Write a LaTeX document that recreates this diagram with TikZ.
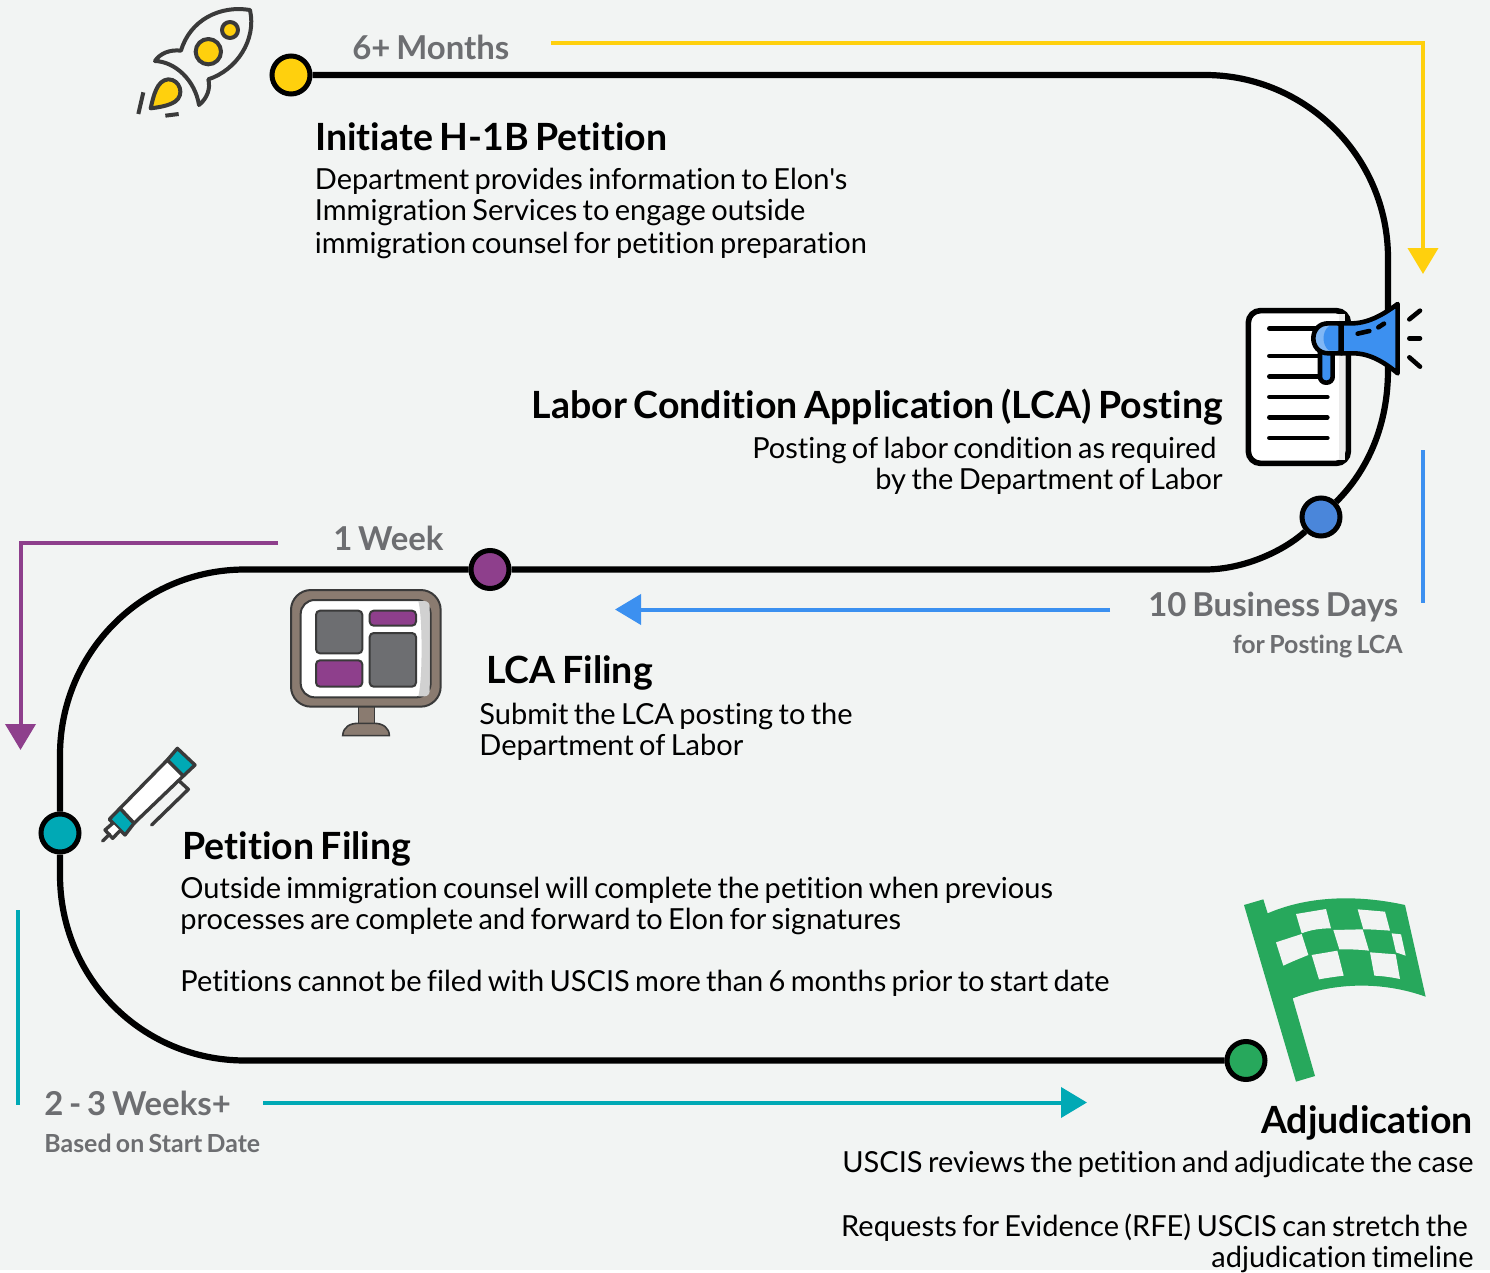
\documentclass[tikz,border=0pt]{standalone}
\usepackage{fontspec}
\defaultfontfeatures[\rmfamily]{}
\setmainfont{Lato}[Ligatures=NoCommon,WordSpace=0.72]
\usetikzlibrary{arrows.meta}

\definecolor{paper}{HTML}{F2F4F3}
\definecolor{ink}{HTML}{3A3A3A}
\definecolor{label}{HTML}{6D6E71}
\definecolor{cyellow}{HTML}{FFD00D}
\definecolor{cblue}{HTML}{3C90F0}
\definecolor{cdot}{HTML}{4A86DA}
\definecolor{cpurple}{HTML}{8E3F8C}
\definecolor{cteal}{HTML}{00A9B5}
\definecolor{cgreen}{HTML}{27A85C}
\definecolor{brown}{HTML}{8A7B70}
\definecolor{slate}{HTML}{6D6E71}

\begin{document}
\begin{tikzpicture}[x=0.5pt,y=-0.5pt]
    \tikzset{track/.style = {black, line width=3.1pt},
        dot/.style   = {circle, draw=black, line width=2.5pt, inner sep=0pt, minimum size=19pt},
        span/.style  = {line width=2pt},
        spanarrow/.style = {span, -{Triangle[width=15pt,length=13pt]}},
        head/.style  = {font=\fontsize{18.75}{20}\selectfont\bfseries, inner sep=0pt},
        body/.style  = {font=\fontsize{14.5}{15.6}\selectfont, inner sep=0pt},
        time/.style  = {font=\fontsize{16.45}{20}\selectfont\bfseries, text=label, inner sep=0pt},
        subtime/.style = {font=\fontsize{12.45}{15}\selectfont\bfseries, text=label, inner sep=0pt},
        icon/.style  = {line width=2pt, line join=round, line cap=round},
        penline/.style = {line width=1.7pt, line join=round, line cap=round},
        sheetline/.style = {black, line width=2.3pt, line cap=round},
        tile/.style  = {draw=ink, line width=1pt, rounded corners=2pt}
    }

    \fill[paper] (0,0) rectangle (1490,1270);

    % Draw the stops on the track.
    \node[dot, fill=cyellow] (startdot) at (291,75) {};
    \node[dot, fill=cdot] (postdot) at (1321,517) {};
    \node[dot, fill=cpurple] (filedot) at (490,569.5) {};
    \node[dot, fill=cteal] (petitiondot) at (60,833) {};
    \node[dot, fill=cgreen] (enddot) at (1246,1060.5) {};

    % Draw the track.
    \draw[track] (startdot) -- (1205,75) .. controls (1306,75) and (1388,157) .. (1388,258)
        -- (1388,370) .. controls (1388,425) and (1368,470) .. (postdot);
    \draw[track] (postdot) .. controls (1285,550) and (1245,569.5) .. (1205,569.5) -- (filedot);
    \draw[track] (filedot) -- (245,569.5) .. controls (142,569.5) and (60,653) .. (60,755) -- (petitiondot);
    \draw[track] (petitiondot) -- (60,875) .. controls (60,978) and (142,1060.5) .. (245,1060.5) -- (enddot);

    % Draw the time spans.
    \coordinate (yellowa) at (551,43);
    \coordinate (yellowb) at (1423,43);
    \coordinate (yellowc) at (1423,274);
    \draw[spanarrow, cyellow] (yellowa) -- (yellowb) -- (yellowc);
    \coordinate (bluea) at (1423,450);
    \coordinate (blueb) at (1423,603);
    \draw[span, cblue] (bluea) -- (blueb);
    \coordinate (bluec) at (1110,609.5);
    \coordinate (blued) at (615,609.5);
    \draw[spanarrow, cblue] (bluec) -- (blued);
    \coordinate (purplea) at (278,542.5);
    \coordinate (purpleb) at (20.5,542.5);
    \coordinate (purplec) at (20.5,750);
    \draw[spanarrow, cpurple] (purplea) -- (purpleb) -- (purplec);
    \coordinate (teala) at (18,910);
    \coordinate (tealb) at (18,1105);
    \draw[span, cteal] (teala) -- (tealb);
    \coordinate (tealc) at (263,1102.5);
    \coordinate (teald) at (1087,1102.5);
    \draw[spanarrow, cteal] (tealc) -- (teald);

    % Draw the labels.
    \node[time, anchor=base west] (monthslabel) at (352,60) {6+ Months};
    \node[time, anchor=base west] (weeklabel) at (333,550.5) {1 Week};
    \node[time, anchor=base west] (dayslabel) at (1148,616.5) {10 Business Days};
    \node[subtime, anchor=base east] (dayssub) at (1403,653.5) {for Posting LCA};
    \node[time, anchor=base west] (weekslabel) at (44,1115) {2 - 3 Weeks+};
    \node[subtime, anchor=base west] (weekssub) at (44,1152) {Based on Start Date};

    \node[head, anchor=base west] (starthead) at (315,150.5) {Initiate H-1B Petition};
    \node[body, anchor=north west, align=left] (starttext) at (314.5,167.5)
        {Department provides information to Elon's\\Immigration Services to engage outside\\[1pt]immigration counsel for petition preparation};

    \node[head, anchor=base east] (posthead) at (1223,418.5) {Labor Condition Application (LCA) Posting};
    \node[body, anchor=north east, align=right] (posttext) at (1223,437)
        {Posting of labor condition as required\hspace*{3pt}\\by the Department of Labor};

    \node[head, anchor=base west] (filehead) at (486,683) {LCA Filing};
    \node[body, anchor=north west, align=left] (filetext) at (479,702.5)
        {Submit the LCA posting to the\\Department of Labor};

    \node[head, anchor=base west] (petitionhead) at (182,859) {Petition Filing};
    \node[body, anchor=north west, align=left] (petitiontext) at (180,876.5)
        {Outside immigration counsel will complete the petition when previous\\processes are complete and forward to Elon for signatures\\[15.6pt]Petitions cannot be filed with USCIS more than 6 months prior to start date};

    \node[head, anchor=base east] (endhead) at (1473,1133) {Adjudication};
    \node[body, anchor=north east, align=right] (endtext) at (1474,1150.5)
        {USCIS reviews the petition and adjudicate the case\\[16.5pt]Requests for Evidence (RFE) USCIS can stretch the\hbox to 3pt{}\\adjudication timeline};

    % Draw the rocket.
    \begin{scope}[shift={(120,0)},scale=1/3]
        \draw[icon, draw=ink] (390,30) .. controls (300,15) and (210,60) .. (183,152)
            .. controls (150,148) and (120,160) .. (105,183)
            .. controls (165,185) and (225,240) .. (237,315)
            .. controls (262,295) and (272,265) .. (265,238)
            .. controls (350,210) and (410,120) .. (390,30) -- cycle;
        \draw[icon, draw=ink, fill=cyellow] (265,155) circle[radius=38];
        \draw[icon, draw=ink, fill=cyellow] (330,90) circle[radius=24];
        \draw[icon, draw=ink, fill=cyellow] (92,325) .. controls (100,290) and (110,240) .. (145,238)
            .. controls (180,238) and (195,285) .. (165,305) .. controls (145,318) and (115,322) .. (92,325) -- cycle;
        \draw[icon, draw=ink, line cap=butt] (70,277) -- (55,342);
        \draw[icon, draw=ink, line cap=butt] (136,347) -- (176,342);
    \end{scope}

    % Draw the sheet and the megaphone.
    \begin{scope}[shift={(1230,290)},scale=1/3]
        \draw[line width=2.8pt, black, fill=white, rounded corners=6pt] (55,62) rectangle (355,520);
        \fill[black!8] (327,72) rectangle (346,510);
        \foreach \ypos in {115,198,260,321,382,444}
            \draw[sheetline] (118,\ypos) -- (292,\ypos);
        \draw[line width=2.3pt, black, fill=cblue, rounded corners=3pt] (270,185) -- (270,278) -- (308,278) -- (308,185);
        \draw[line width=2.3pt, black, fill=cblue!65!white] (330,100) -- (295,100)
            .. controls (235,100) and (235,190) .. (295,190) -- (330,190) -- cycle;
        \fill[cblue] (325,108) -- (297,108) .. controls (275,125) and (275,165) .. (297,182) -- (325,182) -- cycle;
        \draw[line width=2.3pt, black, line join=round, fill=cblue] (335,100) -- (370,100)
            .. controls (420,98) and (465,70) .. (503,42) -- (503,250)
            .. controls (465,218) and (420,190) .. (370,190) -- (335,190) -- cycle;
        \draw[sheetline] (383,131) -- (418,123);
        \draw[sheetline] (445,112) -- (462,101);
        \draw[sheetline] (538,88) -- (570,62);
        \draw[sheetline] (538,145) -- (570,145);
        \draw[sheetline] (538,202) -- (570,230);
    \end{scope}

    % Draw the monitor.
    \begin{scope}[shift={(280,580)},scale=1/3]
        \draw[draw=ink, line width=0.8pt, fill=brown] (235,375) rectangle (283,435);
        \draw[draw=ink, line width=0.8pt, fill=brown] (188,467) .. controls (190,440) and (210,430) .. (235,430)
            -- (283,430) .. controls (310,430) and (328,445) .. (328,467) -- cycle;
        \draw[draw=ink, line width=1pt, fill=brown, rounded corners=10pt] (33,30) rectangle (482,380);
        \draw[draw=ink, line width=1pt, fill=white, rounded corners=7pt] (62,60) rectangle (452,352);
        \fill[black!18] (415,63) -- (432,63) .. controls (443,63) and (449,70) .. (449,80) -- (449,332)
            .. controls (449,343) and (443,349) .. (432,349) -- (415,349)
            .. controls (428,300) and (428,110) .. (415,63) -- cycle;
        \draw[tile, fill=slate] (108,92) rectangle (247,220);
        \draw[tile, fill=cpurple] (269,92) rectangle (408,137);
        \draw[tile, fill=slate] (269,159) rectangle (408,320);
        \draw[tile, fill=cpurple] (108,241) rectangle (247,320);
    \end{scope}

    % Draw the pen.
    \begin{scope}[shift={(90,740)},scale=1/3]
        \draw[penline, draw=ink, fill=cteal] (262,25) -- (315,75) -- (280,108) -- (232,60) -- cycle;
        \draw[penline, draw=ink, fill=white] (232,60) -- (280,108) -- (132,250) -- (90,205) -- cycle;
        \draw[penline, draw=ink, fill=cteal] (90,205) -- (132,250) -- (105,285) -- (58,238) -- cycle;
        \draw[penline, draw=ink, fill=white] (68,250) -- (45,270) -- (68,295) -- (90,272);
        \draw[penline, draw=ink] (58,283) -- (38,303);
        \draw[penline, draw=ink] (270,125) -- (295,148) -- (185,255);
    \end{scope}

    % Draw the flag.
    \begin{scope}[shift={(1220,890)},scale=1/3]
        \fill[cgreen] (72,45) -- (130,28) -- (143,70) .. controls (270,15) and (420,15) .. (555,45)
            -- (617,320) .. controls (490,275) and (350,275) .. (218,325) -- (285,558) -- (228,575) -- cycle;
        \fill[paper] (228,72) -- (318,57) -- (333,115) .. controls (300,115) and (270,120) .. (245,130) -- cycle;
        \fill[paper] (413,58) -- (495,65) -- (510,122) .. controls (485,120) and (455,118) .. (430,118) -- cycle;
        \fill[paper] (168,157) -- (245,132) -- (265,195) .. controls (240,205) and (215,215) .. (190,227) -- cycle;
        \fill[paper] (340,120) -- (428,118) -- (447,182) .. controls (415,178) and (385,178) .. (358,178) -- cycle;
        \fill[paper] (515,130) -- (543,133) -- (557,197) -- (528,187) -- cycle;
        \fill[paper] (275,195) -- (352,182) -- (371,257) .. controls (345,260) and (320,264) .. (297,268) -- cycle;
        \fill[paper] (450,187) -- (527,193) -- (540,267) .. controls (515,262) and (490,258) .. (463,257) -- cycle;
    \end{scope}
\end{tikzpicture}
\end{document}
